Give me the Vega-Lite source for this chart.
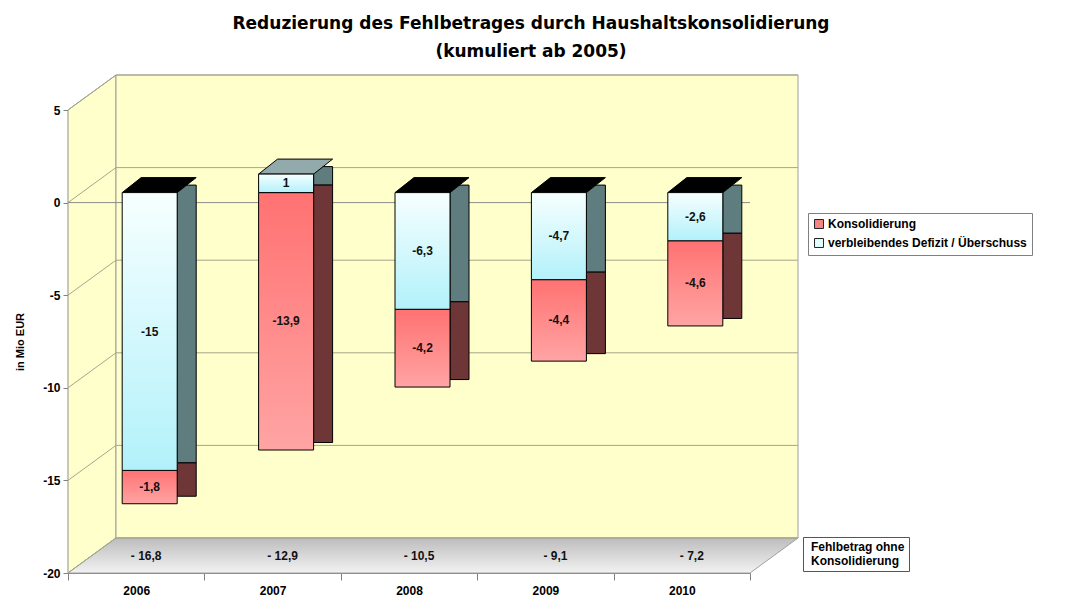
{
  "$schema": "https://vega.github.io/schema/vega-lite/v6.json",
  "width": 682,
  "height": 463,
  "autosize": {"type": "none"},
  "padding": {"left": 68, "top": 110, "right": 317, "bottom": 29},
  "background": "white",
  "config": {
    "locale": {"number": {"decimal": ",", "thousands": ".", "grouping": [3], "currency": ["", " €"], "minus": "-"}},
    "view": {"stroke": null},
    "font": "Liberation Sans"
  },
  "title": {
    "text": ["Reduzierung des Fehlbetrages durch Haushaltskonsolidierung", "(kumuliert ab 2005)"],
    "font": "DejaVu Sans",
    "fontSize": 17,
    "fontWeight": "bold",
    "lineHeight": 28,
    "color": "black",
    "anchor": "middle",
    "dx": 122,
    "offset": 12
  },
  "datasets": {
    "segments": [
      {"year": "2006", "series": "verbleibendes Defizit / Überschuss", "order": 1, "value": -15},
      {"year": "2006", "series": "Konsolidierung", "order": 2, "value": -1.8},
      {"year": "2007", "series": "verbleibendes Defizit / Überschuss", "order": 1, "value": 1},
      {"year": "2007", "series": "Konsolidierung", "order": 2, "value": -13.9},
      {"year": "2008", "series": "verbleibendes Defizit / Überschuss", "order": 1, "value": -6.3},
      {"year": "2008", "series": "Konsolidierung", "order": 2, "value": -4.2},
      {"year": "2009", "series": "verbleibendes Defizit / Überschuss", "order": 1, "value": -4.7},
      {"year": "2009", "series": "Konsolidierung", "order": 2, "value": -4.4},
      {"year": "2010", "series": "verbleibendes Defizit / Überschuss", "order": 1, "value": -2.6},
      {"year": "2010", "series": "Konsolidierung", "order": 2, "value": -4.6}
    ],
    "years": [
      {"year": "2006", "fehl": -16.8},
      {"year": "2007", "fehl": -12.9},
      {"year": "2008", "fehl": -10.5},
      {"year": "2009", "fehl": -9.1},
      {"year": "2010", "fehl": -7.2}
    ],
    "grid": [{"v": 5}, {"v": 0}, {"v": -5}, {"v": -10}, {"v": -15}, {"v": -20}],
    "one": [{"item": "frame"}]
  },
  "layer": [
    {
      "data": {"name": "segments"},
      "transform": [
        {"stack": "value", "groupby": ["year"], "sort": [{"field": "order", "order": "ascending"}], "as": ["v0", "v1"]}
      ],
      "mark": {"type": "bar", "width": 55, "xOffset": 13.5, "yOffset": -10, "y2Offset": -10, "stroke": "black", "strokeWidth": 1},
      "encoding": {
        "x": {
          "field": "year", "type": "nominal",
          "scale": {"paddingInner": 0, "paddingOuter": 0},
          "axis": {
            "title": null, "labelAngle": 0, "tickBand": "extent", "tickSize": 7,
            "domainColor": "#808080", "tickColor": "#808080",
            "labelFont": "Liberation Sans", "labelFontWeight": "bold", "labelFontSize": 12, "labelColor": "black", "labelPadding": 5
          }
        },
        "y": {
          "field": "v0", "type": "quantitative",
          "scale": {"domain": [-20, 5], "nice": false, "zero": false},
          "axis": {
            "values": [5, 0, -5, -10, -15, -20], "title": "in Mio EUR", "grid": false,
            "domainColor": "#808080", "tickColor": "#808080", "tickSize": 5,
            "labelFont": "Liberation Sans", "labelFontWeight": "bold", "labelFontSize": 12, "labelColor": "black", "labelPadding": 3,
            "titleFont": "Liberation Sans", "titleFontWeight": "bold", "titleFontSize": 11, "titleColor": "black",
            "titleX": -48, "titleY": 231.5, "titleAngle": -90, "titleAlign": "center", "titleBaseline": "middle"
          }
        },
        "y2": {"field": "v1"},
        "fill": {
          "field": "series", "type": "nominal",
          "scale": {
            "domain": ["Konsolidierung", "verbleibendes Defizit / Überschuss"],
            "range": ["#F58585", "#E2FEFF"]
          },
          "legend": {
            "orient": "none", "legendX": 740, "legendY": 103, "title": null,
            "padding": 5, "strokeColor": "#7F7F7F", "fillColor": "white",
            "labelFont": "Liberation Sans", "labelFontWeight": "bold", "labelFontSize": 12, "labelColor": "black",
            "symbolType": "square", "symbolSize": 80, "symbolStrokeColor": "#222222", "symbolStrokeWidth": 1,
            "rowPadding": 5, "labelOffset": 3, "labelLimit": 300
          }
        }
      }
    },
    {
      "data": {"name": "one"},
      "mark": {"type": "point", "shape": "M-0.0964,-0.8594L0.0964,-1L0.0964,0.8594L-0.0964,1Z", "size": 248004, "filled": true, "fill": "#FFFFCC", "stroke": "#909090", "strokeWidth": 1, "opacity": 1, "xOffset": -44.2, "yOffset": -17.5},
      "encoding": {
        "x": {"datum": "2006", "type": "nominal"},
        "y": {"datum": -7.5, "type": "quantitative"}
      }
    },
    {
      "data": {"name": "one"},
      "mark": {"type": "point", "shape": "M-1,-0.6789L1,-0.6789L1,0.6789L-1,0.6789Z", "size": 465124, "filled": true, "fill": "#FFFFCC", "stroke": "#A0A0A0", "strokeWidth": 1, "opacity": 1, "xOffset": 48, "yOffset": -35},
      "encoding": {
        "x": {"datum": "2008", "type": "nominal"},
        "y": {"datum": -7.5, "type": "quantitative"}
      }
    },
    {
      "data": {"name": "one"},
      "mark": {"type": "point", "shape": "M-1,0.04795L0.8685,0.04795L1,-0.04795L-0.8685,-0.04795Z", "size": 532900, "filled": true,
        "fill": {"gradient": "linear", "x1": 0, "y1": 0, "x2": 0, "y2": 1, "stops": [{"offset": 0, "color": "#BDBDBD"}, {"offset": 1, "color": "#F2F2F2"}]},
        "stroke": "#A0A0A0", "strokeWidth": 1, "opacity": 1, "xOffset": 24, "yOffset": -17.5},
      "encoding": {
        "x": {"datum": "2008", "type": "nominal"},
        "y": {"datum": -20, "type": "quantitative"}
      }
    },
    {
      "data": {"name": "grid"},
      "mark": {"type": "rule", "stroke": "#A6A68C", "strokeWidth": 1, "xOffset": -20.2, "x2Offset": 116.2, "yOffset": -35},
      "encoding": {
        "x": {"datum": "2006", "type": "nominal"},
        "x2": {"datum": "2010"},
        "y": {"field": "v", "type": "quantitative"}
      }
    },
    {
      "data": {"name": "grid"},
      "mark": {"type": "rule", "stroke": "#A6A68C", "strokeWidth": 1, "xOffset": -68.2, "x2Offset": -20.2, "yOffset": 0, "y2Offset": -35},
      "encoding": {
        "x": {"datum": "2006", "type": "nominal"},
        "x2": {"datum": "2006"},
        "y": {"field": "v", "type": "quantitative"},
        "y2": {"field": "v"}
      }
    },
    {
      "data": {"name": "one"},
      "mark": {"type": "rule", "stroke": "#8C8C8C", "strokeWidth": 1, "xOffset": -68.2, "x2Offset": 68.2},
      "encoding": {
        "x": {"datum": "2006", "type": "nominal"},
        "x2": {"datum": "2010"},
        "y": {"datum": 0, "type": "quantitative"},
        "strokeDash": {
          "datum": "Fehlbetrag ohne Konsolidierung",
          "type": "nominal",
          "scale": {"range": [[1, 0]]},
          "legend": {
            "orient": "none", "legendX": 735, "legendY": 427, "title": null,
            "padding": 4, "strokeColor": "#555555", "fillColor": "white",
            "labelFont": "Liberation Sans", "labelFontWeight": "bold", "labelFontSize": 12, "labelColor": "black",
            "labelExpr": "['Fehlbetrag ohne\u00a0\u00a0\u00a0\u00a0\u00a0\u00a0\u00a0\u00a0\u00a0\u00a0\u00a0', 'Konsolidierung']",
            "symbolOpacity": 0, "symbolSize": 0, "symbolStrokeWidth": 0, "labelOffset": -8, "labelLimit": 300
          }
        }
      }
    },
    {
      "data": {"name": "segments"},
      "transform": [
        {"stack": "value", "groupby": ["year"], "sort": [{"field": "order", "order": "ascending"}], "as": ["v0", "v1"]},
        {"calculate": "(datum.v0 + datum.v1) / 2", "as": "mid"}
      ],
      "layer": [
        {
          "mark": {"type": "bar", "width": 19, "xOffset": 50.5, "yOffset": -17.5, "y2Offset": -17.5, "stroke": "black", "strokeWidth": 1},
          "encoding": {
            "x": {"field": "year", "type": "nominal"},
            "y": {"field": "v0", "type": "quantitative"},
            "y2": {"field": "v1"},
            "fill": {"condition": {"test": "datum.series === 'Konsolidierung'", "value": "#6E3636"}, "value": "#5F7C7E"}
          }
        },
        {
          "transform": [{"filter": "datum.order === 1 && datum.value < 0"}],
          "mark": {"type": "point", "shape": "M-1,0.2027L0.4865,0.2027L1,-0.2027L-0.4865,-0.2027Z", "size": 5476, "filled": true, "fill": "black", "stroke": "black", "strokeWidth": 1, "opacity": 1, "xOffset": 23, "yOffset": -17.5},
          "encoding": {
            "x": {"field": "year", "type": "nominal"},
            "y": {"field": "v0", "type": "quantitative"}
          }
        },
        {
          "transform": [{"filter": "datum.order === 1 && datum.value > 0"}],
          "mark": {"type": "point", "shape": "M-1,0.2027L0.4865,0.2027L1,-0.2027L-0.4865,-0.2027Z", "size": 5476, "filled": true, "fill": "#93AAAD", "stroke": "black", "strokeWidth": 1, "opacity": 1, "xOffset": 23, "yOffset": -17.5},
          "encoding": {
            "x": {"field": "year", "type": "nominal"},
            "y": {"field": "v1", "type": "quantitative"}
          }
        },
        {
          "transform": [{"filter": "datum.series === 'Konsolidierung'"}],
          "mark": {"type": "bar", "width": 55, "xOffset": 13.5, "yOffset": -10, "y2Offset": -10, "stroke": "black", "strokeWidth": 1,
            "fill": {"gradient": "linear", "x1": 0, "y1": 0, "x2": 0, "y2": 1, "stops": [{"offset": 0, "color": "#FF7272"}, {"offset": 1, "color": "#FFA4A4"}]}},
          "encoding": {
            "x": {"field": "year", "type": "nominal"},
            "y": {"field": "v0", "type": "quantitative"},
            "y2": {"field": "v1"}
          }
        },
        {
          "transform": [{"filter": "datum.series !== 'Konsolidierung'"}],
          "mark": {"type": "bar", "width": 55, "xOffset": 13.5, "yOffset": -10, "y2Offset": -10, "stroke": "black", "strokeWidth": 1,
            "fill": {"gradient": "linear", "x1": 0, "y1": 0, "x2": 0, "y2": 1, "stops": [{"offset": 0, "color": "#F7FFFF"}, {"offset": 1, "color": "#B2F1FA"}]}},
          "encoding": {
            "x": {"field": "year", "type": "nominal"},
            "y": {"field": "v0", "type": "quantitative"},
            "y2": {"field": "v1"}
          }
        },
        {
          "mark": {"type": "text", "xOffset": 13.5, "yOffset": -10, "font": "Liberation Sans", "fontWeight": "bold", "fontSize": 12, "color": "#111111", "align": "center", "baseline": "middle"},
          "encoding": {
            "x": {"field": "year", "type": "nominal"},
            "y": {"field": "mid", "type": "quantitative"},
            "text": {"field": "value", "type": "quantitative", "format": ".3~g"}
          }
        }
      ]
    },
    {
      "data": {"name": "years"},
      "mark": {"type": "text", "xOffset": 10, "yOffset": -17, "font": "Liberation Sans", "fontWeight": "bold", "fontSize": 12, "color": "#111111", "align": "center", "baseline": "middle",
        "text": {"expr": "'- ' + format(-datum.fehl, '.1f')"}},
      "encoding": {
        "x": {"field": "year", "type": "nominal"},
        "y": {"datum": -20, "type": "quantitative"}
      }
    }
  ]
}
